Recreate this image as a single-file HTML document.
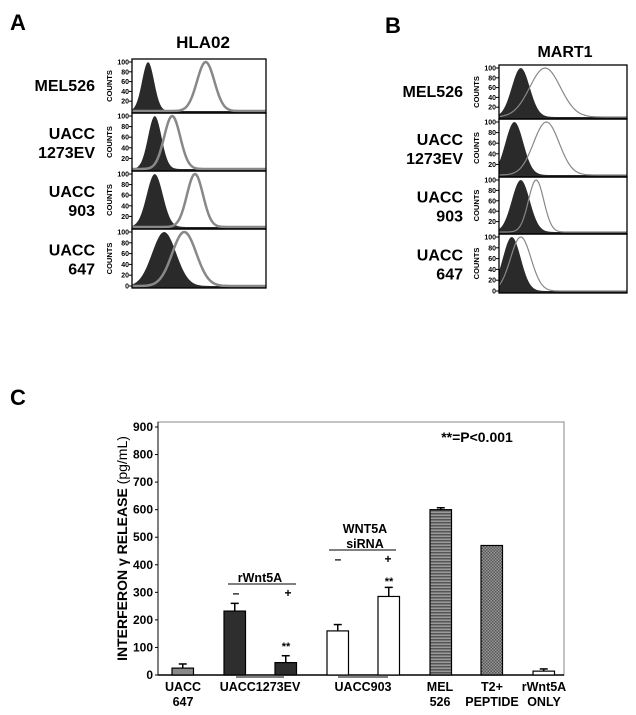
<!DOCTYPE html>
<html><head><meta charset="utf-8"><style>
body{margin:0;background:#fff;}
svg{display:block;font-family:"Liberation Sans Narrow","Liberation Sans",Arial,sans-serif;font-weight:bold;}
</style></head><body>
<svg id="fig" width="636" height="715" viewBox="0 0 636 715">
<defs>
<pattern id="hstripe" width="4" height="3" patternUnits="userSpaceOnUse"><rect width="4" height="3" fill="#9a9a9a"/><rect width="4" height="1.5" fill="#555"/></pattern>
<pattern id="xhatch" width="3" height="3" patternUnits="userSpaceOnUse"><rect width="3" height="3" fill="#999"/><rect width="1.5" height="1.5" fill="#555"/><rect x="1.5" y="1.5" width="1.5" height="1.5" fill="#555"/></pattern>
</defs>
<text x="10" y="30" font-size="22" font-family="Liberation Sans">A</text>
<text x="203" y="48" font-size="17" text-anchor="middle" font-family="Liberation Sans">HLA02</text>
<text x="385" y="33" font-size="22" font-family="Liberation Sans">B</text>
<text x="565" y="57" font-size="16" text-anchor="middle" font-family="Liberation Sans">MART1</text>
<text x="10" y="405" font-size="22" font-family="Liberation Sans">C</text>
<g id="histA"></g><g id="histB"></g><g id="barC"></g>
</svg>
<script>
const NS="http://www.w3.org/2000/svg";
function mk(tag,attrs,parent,txt){const e=document.createElementNS(NS,tag);for(const k in attrs)e.setAttribute(k,attrs[k]);if(txt!==undefined)e.textContent=txt;parent.appendChild(e);return e;}
// Histogram data: [peak position (fraction of axis), spread]
const rowLabels=[["MEL526"],["UACC","1273EV"],["UACC","903"],["UACC","647"]];
const hlaFilled=[[0.12,0.045],[0.17,0.05],[0.17,0.06],[0.24,0.09]];
const hlaLine=[[0.55,0.065],[0.30,0.06],[0.47,0.06],[0.39,0.09]];
const martFilled=[[0.17,0.07],[0.12,0.07],[0.17,0.07],[0.10,0.07]];
const martLine=[[0.36,0.12],[0.37,0.10],[0.29,0.06],[0.17,0.08]];
const histTicks=[20,40,60,80,100];

function histPanel(g,x0,x1,rowsY,labelRight,filled,line,lineW,lineCol){
  for(let r=0;r<4;r++){
    const top=rowsY[r],bot=rowsY[r+1],h=bot-top;
    const lab=rowLabels[r];
    const lt=mk('text',{x:labelRight,'font-size':16,'text-anchor':'end'},g);
    
    
    lab.forEach((s,i)=>{mk('tspan',{x:labelRight,y:(top+bot)/2+(lab.length==1?5:(i==0?-3:16))},lt,s);});
    const ct=mk('text',{x:0,y:0,'font-size':7.5,'text-anchor':'middle',transform:`translate(${x0-20},${(top+bot)/2}) rotate(-90)`},g,'COUNTS');
    
    
    const yv=v=>bot-2-(h-5)*v/100;
    histTicks.concat(r==3?[0]:[]).forEach(t=>{
      mk('line',{x1:x0-3,x2:x0,y1:yv(t),y2:yv(t),stroke:'#000','stroke-width':1},g);
      mk('text',{x:x0-3,y:yv(t)+2.5,'font-size':7,'text-anchor':'end'},g,t);
    });
    const w=x1-x0;
    const curve=(p)=>{let pts=[];for(let i=0;i<=100;i++){const f=i/100;const v=100*Math.exp(-Math.pow((f-p[0])/p[1],2)/2);pts.push([x0+f*w,yv(v)]);}return pts;};
    const fp=curve(filled[r]);
    const fill=mk('path',{d:'M'+x0+','+bot+' L'+fp.map(p=>p.join(',')).join(' L')+' L'+x1+','+bot+'Z',fill:'#2a2a2a'},g);
    
    
    const lp=curve(line[r]);
    const ln=mk('polyline',{points:lp.map(p=>p.join(',')).join(' '),fill:'none',stroke:lineCol,'stroke-width':lineW},g);
    
    
    const box=mk('rect',{x:x0,y:top,width:w,height:h,fill:'none',stroke:'#000','stroke-width':1.3},g);
    
    
  }
}
histPanel(document.getElementById('histA'),132,266,[59,113,171,229,288],95,hlaFilled,hlaLine,2.5,'#888');
histPanel(document.getElementById('histB'),499,627,[65,119,177,234,293],463,martFilled,martLine,1.2,'#888');

// Bar chart data
const barValues=[25,232,45,160,285,600,470,14];
const barErrors=[40,260,70,183,318,607,470,22];
const barFills=['#8a8a8a','#2e2e2e','#2e2e2e','#fff','#fff','url(#hstripe)','url(#xhatch)','#fff'];
const yTicks=[0,100,200,300,400,500,600,700,800,900];
const groupLabels=[["UACC","647"],["UACC1273EV"],["UACC903"],["MEL","526"],["T2+","PEPTIDE"],["rWnt5A","ONLY"]];
(function(){
  const g=document.getElementById('barC');
  const L=158,R=564,T=422,B=675,ymax=900,y0=675,y900=427;
  const y=v=>y0-(y0-y900)*v/ymax;
  const xs=[172,224,275,327,378,430,481,533],bw=21.5;
  const frame=mk('rect',{x:L,y:T,width:R-L,height:B-T,fill:'none',stroke:'#888','stroke-width':1},g);
  
  
  mk('line',{x1:L,x2:R,y1:B,y2:B,stroke:'#000','stroke-width':1.5},g);
  mk('line',{x1:L,x2:L,y1:T,y2:B,stroke:'#000','stroke-width':1},g);
  yTicks.forEach(t=>{
    mk('line',{x1:L-3,x2:L,y1:y(t),y2:y(t),stroke:'#000'},g);
    const tx=mk('text',{x:L-5,y:y(t)+4,'font-size':12,'text-anchor':'end'},g,t);
    
    
  });
  const yt=mk('text',{x:0,y:0,'font-size':14,'text-anchor':'middle',transform:`translate(127,${(T+B)/2}) rotate(-90)`},g);
  
  
  mk('tspan',{},yt,'INTERFERON γ RELEASE ');
  mk('tspan',{'font-weight':'normal'},yt,'(pg/mL)');
  barValues.forEach((v,i)=>{
    const e=barErrors[i],cx=xs[i]+bw/2;
    if(e>v){mk('line',{x1:cx,x2:cx,y1:y(v),y2:y(e),stroke:'#000','stroke-width':1.5},g);
      mk('line',{x1:cx-4,x2:cx+4,y1:y(e),y2:y(e),stroke:'#000','stroke-width':1.5},g);}
    const b=mk('rect',{x:xs[i],y:y(v),width:bw,height:y(0)-y(v),fill:barFills[i],stroke:'#000','stroke-width':1.2},g);
    
    
  });
  const gx=[183,260,363,440,492,544];
  groupLabels.forEach((l,i)=>{
    const t=mk('text',{'font-size':12.5,'text-anchor':'middle'},g);
    
    
    l.forEach((s,j)=>mk('tspan',{x:gx[i],y:691+j*15},t,s));
  });
  mk('line',{x1:236,x2:284,y1:677,y2:677,stroke:'#000'},g);
  mk('line',{x1:338,x2:388,y1:677,y2:677,stroke:'#000'},g);
  const ann=(x,yy,s,fs)=>{const t=mk('text',{x:x,y:yy,'font-size':fs,'text-anchor':'middle'},g,s);};
  ann(260,582,'rWnt5A',12.5);mk('line',{x1:228,x2:296,y1:584,y2:584,stroke:'#000'},g);
  ann(236,597,'–',12);ann(288,597,'+',12);
  ann(365,533,'WNT5A',12.5);ann(365,548,'siRNA',12.5);mk('line',{x1:329,x2:396,y1:550,y2:550,stroke:'#000'},g);
  ann(338,563,'–',12);ann(388,563,'+',12);
  ann(286,650,'**',11);ann(389,585,'**',11);
  ann(477,442,'**=P<0.001',14);
})();
</script>
</body></html>
